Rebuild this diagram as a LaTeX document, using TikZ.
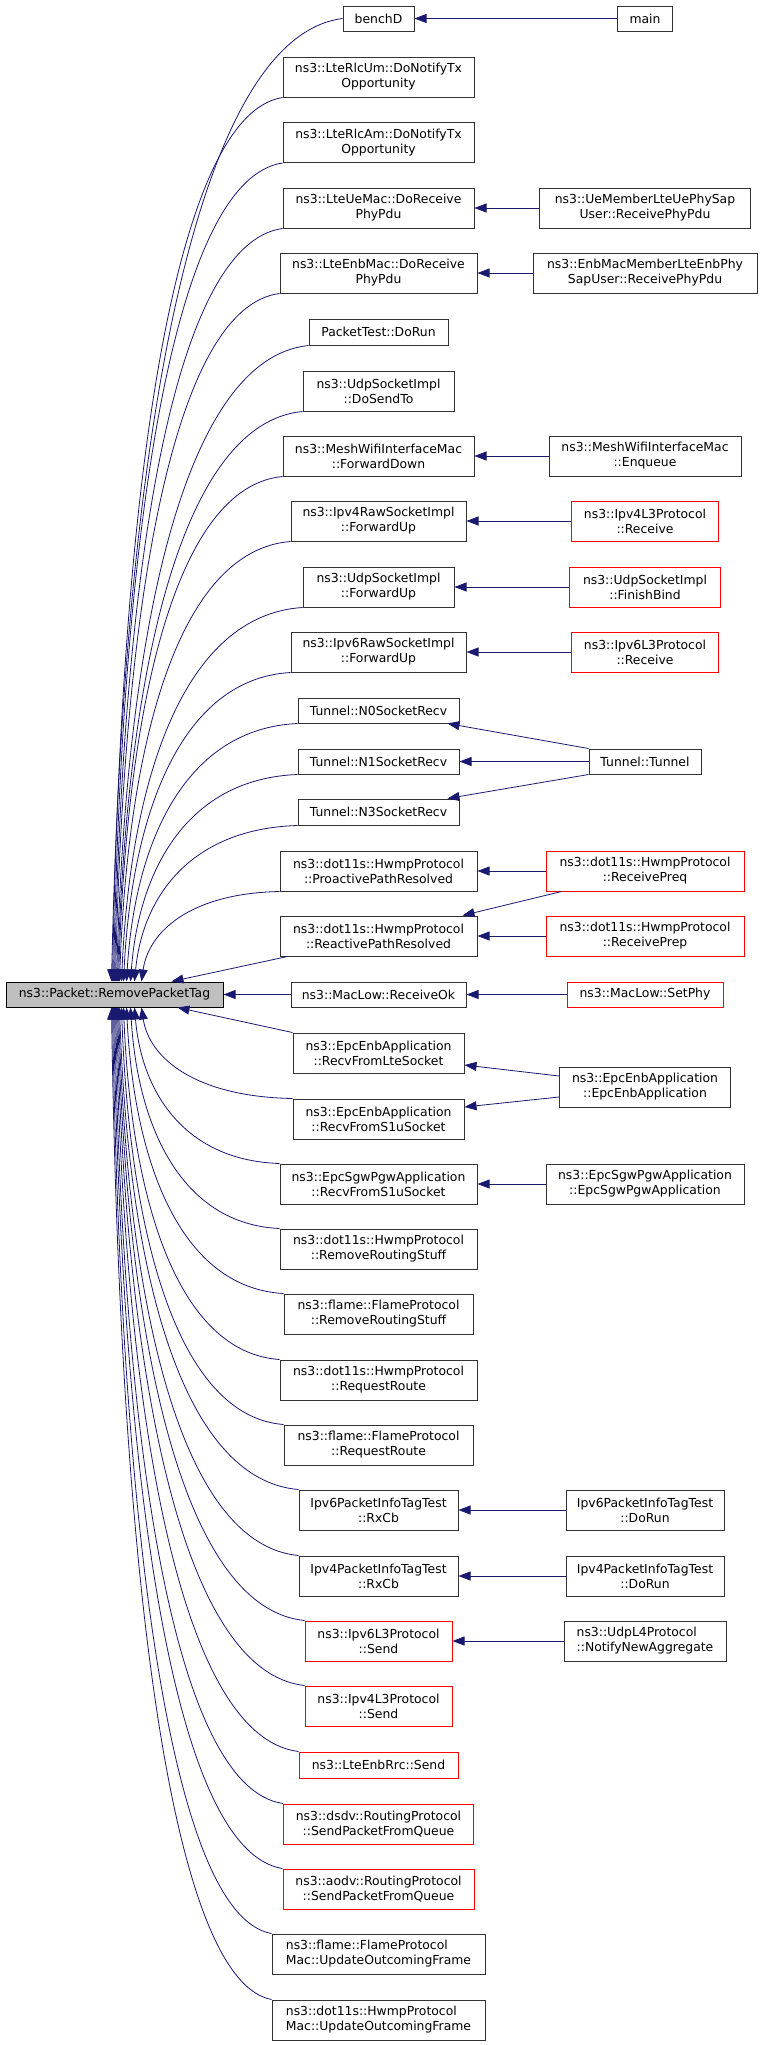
\documentclass[tikz,border=0pt]{standalone}
\usepackage{fontspec}
\newfontfamily\dxfont{DejaVu Sans}
\usepackage{xcolor}
\usepackage{tikz}
\usetikzlibrary{calc,arrows.meta}
\definecolor{edgeblue}{HTML}{191970}
\definecolor{boxline}{HTML}{333333}
\definecolor{linkred}{HTML}{FF0000}
\definecolor{rootfill}{HTML}{BFBFBF}
\tikzset{
  fn/.style={draw=boxline, line width=1pt, fill=white, inner sep=0pt, align=center,
    text=black, font={\dxfont\fontsize{12.4}{15}\selectfont}},
  fnred/.style={fn, draw=linkred},
  fnroot/.style={fn, fill=rootfill, draw=black},
  one/.style={minimum height=25pt},
  two/.style={minimum height=40pt},
  call/.style={draw=edgeblue, line width=0.8pt, -{Triangle[length=12pt,width=9pt]}}
}

\begin{document}
\begin{tikzpicture}[x=1pt,y=-1pt]
  \useasboundingbox (0,0) rectangle (763,2045);
  \def\mx{378.5}
  \def\rx{645}
  \node[fnroot, one, minimum width=217pt] (root) at (114.5,994.5) {ns3::Packet::RemovePacketTag};
  % callers
  \node[fn, one, minimum width=71pt]  (benchD) at (\mx,18.5) {benchD};
  \node[fn, two, minimum width=191pt] (rlcUm) at (\mx,77) {ns3::LteRlcUm::DoNotifyTx\\Opportunity};
  \node[fn, two, minimum width=191pt] (rlcAm) at (\mx,142.5) {ns3::LteRlcAm::DoNotifyTx\\Opportunity};
  \node[fn, two, minimum width=191pt] (ueMac) at (\mx,208) {ns3::LteUeMac::DoReceive\\PhyPdu};
  \node[fn, two, minimum width=197pt] (enbMac) at (\mx,273) {ns3::LteEnbMac::DoReceive\\PhyPdu};
  \node[fn, minimum height=26pt, minimum width=139pt] (pktTest) at (\mx,332) {PacketTest::DoRun};
  \node[fn, two, minimum width=151pt] (udpSendTo) at (\mx,391) {ns3::UdpSocketImpl\\::DoSendTo};
  \node[fn, two, minimum width=191pt] (meshFwd) at (\mx,456) {ns3::MeshWifiInterfaceMac\\::ForwardDown};
  \node[fn, two, minimum width=175pt] (raw4Up) at (\mx,521) {ns3::Ipv4RawSocketImpl\\::ForwardUp};
  \node[fn, two, minimum width=151pt] (udpUp) at (\mx,587) {ns3::UdpSocketImpl\\::ForwardUp};
  \node[fn, two, minimum width=175pt] (raw6Up) at (\mx,652) {ns3::Ipv6RawSocketImpl\\::ForwardUp};
  \node[fn, one, minimum width=161pt] (tunN0) at (\mx,710.5) {Tunnel::N0SocketRecv};
  \node[fn, one, minimum width=161pt] (tunN1) at (\mx,761.5) {Tunnel::N1SocketRecv};
  \node[fn, minimum height=26pt, minimum width=161pt] (tunN3) at (\mx,812) {Tunnel::N3SocketRecv};
  \node[fn, two, minimum width=197pt] (proPath) at (\mx,871) {ns3::dot11s::HwmpProtocol\\::ProactivePathResolved};
  \node[fn, two, minimum width=197pt] (rePath) at (\mx,936) {ns3::dot11s::HwmpProtocol\\::ReactivePathResolved};
  \node[fn, one, minimum width=175pt] (recvOk) at (\mx,994.5) {ns3::MacLow::ReceiveOk};
  \node[fn, two, minimum width=171pt] (enbLte) at (\mx,1053) {ns3::EpcEnbApplication\\::RecvFromLteSocket};
  \node[fn, two, minimum width=171pt] (enbS1u) at (\mx,1119) {ns3::EpcEnbApplication\\::RecvFromS1uSocket};
  \node[fn, two, minimum width=197pt] (sgwS1u) at (\mx,1184) {ns3::EpcSgwPgwApplication\\::RecvFromS1uSocket};
  \node[fn, two, minimum width=197pt] (hwmpRm) at (\mx,1249) {ns3::dot11s::HwmpProtocol\\::RemoveRoutingStuff};
  \node[fn, two, minimum width=189pt] (flameRm) at (\mx,1314) {ns3::flame::FlameProtocol\\::RemoveRoutingStuff};
  \node[fn, two, minimum width=197pt] (hwmpReq) at (\mx,1380) {ns3::dot11s::HwmpProtocol\\::RequestRoute};
  \node[fn, two, minimum width=189pt] (flameReq) at (\mx,1445) {ns3::flame::FlameProtocol\\::RequestRoute};
  \node[fn, two, minimum width=159pt] (tag6Rx) at (\mx,1510) {Ipv6PacketInfoTagTest\\::RxCb};
  \node[fn, two, minimum width=159pt] (tag4Rx) at (\mx,1576) {Ipv4PacketInfoTagTest\\::RxCb};
  \node[fnred, two, minimum width=147pt] (l3v6Send) at (\mx,1641) {ns3::Ipv6L3Protocol\\::Send};
  \node[fnred, two, minimum width=147pt] (l3v4Send) at (\mx,1706) {ns3::Ipv4L3Protocol\\::Send};
  \node[fnred, minimum height=26pt, minimum width=159pt] (rrcSend) at (\mx,1765) {ns3::LteEnbRrc::Send};
  \node[fnred, two, minimum width=190pt] (dsdvQ) at (\mx,1824) {ns3::dsdv::RoutingProtocol\\::SendPacketFromQueue};
  \node[fnred, two, minimum width=191pt] (aodvQ) at (\mx,1889) {ns3::aodv::RoutingProtocol\\::SendPacketFromQueue};
  \node[fn, two, align=left, minimum width=213pt] (flameUpd) at (\mx,1954) {ns3::flame::FlameProtocol\\Mac::UpdateOutcomingFrame};
  \node[fn, two, align=left, minimum width=213pt] (hwmpUpd) at (\mx,2020) {ns3::dot11s::HwmpProtocol\\Mac::UpdateOutcomingFrame};
  % callers of callers
  \node[fn, one, minimum width=55pt] (main) at (\rx,18.5) {main};
  \node[fn, two, minimum width=211pt] (ueSap) at (\rx,208) {ns3::UeMemberLteUePhySap\\User::ReceivePhyPdu};
  \node[fn, two, minimum width=224pt] (enbSap) at (\rx,273) {ns3::EnbMacMemberLteEnbPhy\\SapUser::ReceivePhyPdu};
  \node[fn, two, minimum width=192pt] (meshEnq) at (\rx,456) {ns3::MeshWifiInterfaceMac\\::Enqueue};
  \node[fnred, two, minimum width=147pt] (l3v4Recv) at (\rx,521) {ns3::Ipv4L3Protocol\\::Receive};
  \node[fnred, two, minimum width=151pt] (udpBind) at (\rx,587) {ns3::UdpSocketImpl\\::FinishBind};
  \node[fnred, two, minimum width=147pt] (l3v6Recv) at (\rx,652) {ns3::Ipv6L3Protocol\\::Receive};
  \node[fn, one, minimum width=112pt] (tunnel) at (\rx,761.5) {Tunnel::Tunnel};
  \node[fnred, two, minimum width=198pt] (preq) at (\rx,871) {ns3::dot11s::HwmpProtocol\\::ReceivePreq};
  \node[fnred, two, minimum width=198pt] (prep) at (\rx,936) {ns3::dot11s::HwmpProtocol\\::ReceivePrep};
  \node[fnred, one, minimum width=156pt] (setPhy) at (\rx,994.5) {ns3::MacLow::SetPhy};
  \node[fn, two, minimum width=171pt] (enbApp) at (\rx,1087) {ns3::EpcEnbApplication\\::EpcEnbApplication};
  \node[fn, two, minimum width=198pt] (sgwApp) at (\rx,1184) {ns3::EpcSgwPgwApplication\\::EpcSgwPgwApplication};
  \node[fn, two, minimum width=158pt] (tag6Run) at (\rx,1510) {Ipv6PacketInfoTagTest\\::DoRun};
  \node[fn, two, minimum width=158pt] (tag4Run) at (\rx,1576) {Ipv4PacketInfoTagTest\\::DoRun};
  \node[fn, two, align=left, minimum width=162pt] (udpL4) at (\rx,1641) {ns3::UdpL4Protocol\\::NotifyNewAggregate};

  % edges into the root, upper half
  \foreach \src/\anc/\tip in {benchD/west/106, rlcUm/south west/107, rlcAm/south west/108,
      ueMac/south west/109, enbMac/south west/110, pktTest/south west/111,
      udpSendTo/south west/112, meshFwd/south west/113, raw4Up/south west/114,
      udpUp/south west/116, raw6Up/south west/118, tunN0/south west/121,
      tunN1/south west/125, tunN3/south west/129, proPath/south west/136}
    \draw[call] let \p1=(\src.\anc), \p2=([xshift=\tip pt]root.north west),
      \n1={\x1-\x2}, \n2={\y1-\y2} in
      (\p1) .. controls (\x1-0.65*\n1,\y1-0.02*\n2) and (\x2+0.05*\n1,\y2+0.55*\n2) .. (\p2);
  \draw[call] ([xshift=8pt]rePath.south west) -- ([xshift=166pt]root.north west);
  \draw[call] (recvOk) -- (root);
  \draw[call] (enbLte.north west) -- ([xshift=172pt]root.south west);
  % edges into the root, lower half
  \foreach \src/\tip in {enbS1u/136, sgwS1u/129, hwmpRm/125, flameRm/121,
      hwmpReq/118, flameReq/116, tag6Rx/114, tag4Rx/113, l3v6Send/112, l3v4Send/111,
      rrcSend/110, dsdvQ/109, aodvQ/108, flameUpd/107, hwmpUpd/106}
    \draw[call] let \p1=(\src.north west), \p2=([xshift=\tip pt]root.south west),
      \n1={\x1-\x2}, \n2={\y2-\y1} in
      (\p1) .. controls (\x1-0.65*\n1,\y1+0.02*\n2) and (\x2+0.05*\n1,\y2-0.55*\n2) .. (\p2);

  % second level
  \draw[call] (main) -- (benchD);
  \draw[call] (ueSap) -- (ueMac);
  \draw[call] (enbSap) -- (enbMac);
  \draw[call] (meshEnq) -- (meshFwd);
  \draw[call] (l3v4Recv) -- (raw4Up);
  \draw[call] (udpBind) -- (udpUp);
  \draw[call] (l3v6Recv) -- (raw6Up);
  \draw[call] (tunnel.north west) -- ([xshift=-12pt]tunN0.south east);
  \draw[call] (tunnel) -- (tunN1);
  \draw[call] (tunnel.south west) -- ([xshift=-12pt]tunN3.north east);
  \draw[call] (preq) -- (proPath);
  \draw[call] ([xshift=16pt]preq.south west) -- ([xshift=-15pt]rePath.north east);
  \draw[call] (prep) -- (rePath);
  \draw[call] (setPhy) -- (recvOk);
  \draw[call] ([yshift=11pt]enbApp.west) -- ([yshift=-12pt]enbLte.east);
  \draw[call] ([yshift=-10pt]enbApp.west) -- ([yshift=12pt]enbS1u.east);
  \draw[call] (sgwApp) -- (sgwS1u);
  \draw[call] (tag6Run) -- (tag6Rx);
  \draw[call] (tag4Run) -- (tag4Rx);
  \draw[call] (udpL4) -- (l3v6Send);
\end{tikzpicture}
\end{document}
